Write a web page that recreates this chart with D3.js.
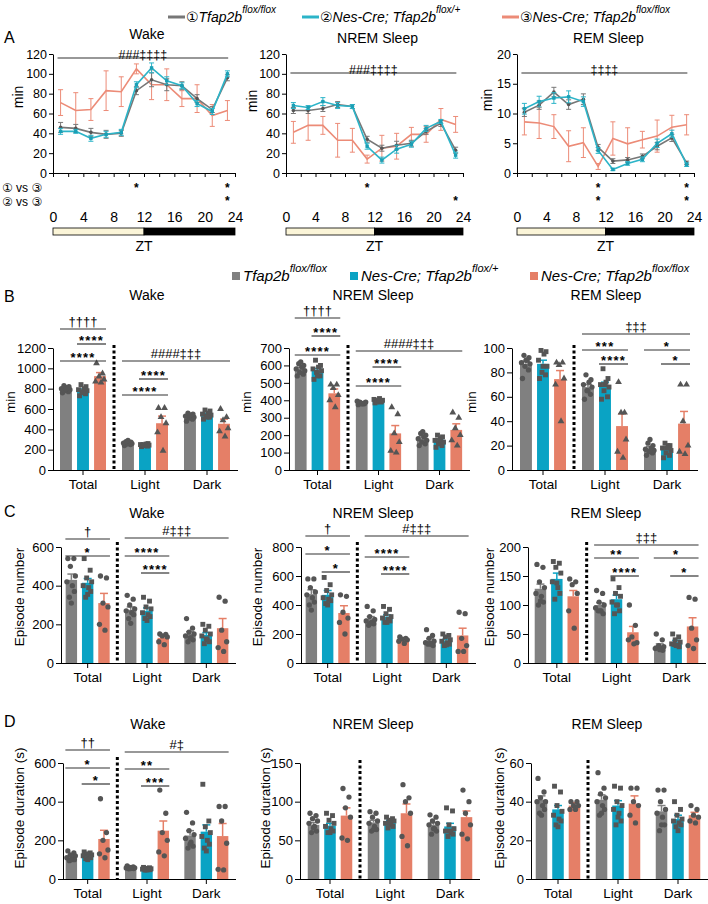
<!DOCTYPE html>
<html>
<head>
<meta charset="utf-8">
<script src="https://cdn.jsdelivr.net/npm/d3@7"></script>
<style>
body { margin: 0; background: #fff; }
svg { font-family: "Liberation Sans", Arial, "DejaVu Sans", "Noto Sans CJK JP", sans-serif; }
</style>
</head>
<body>
<script>
// ---------- data ----------
const genotypes = ["Tfap2b", "Nes-Cre; Tfap2b", "Nes-Cre; Tfap2b"];
const genoSup = ["flox/flox", "flox/+", "flox/flox"];
const circled = ["\u2460", "\u2461", "\u2462"];
const groups = ["Total", "Light", "Dark"];

// A: hourly amounts (2 h bins, min)
const hours = [1, 3, 5, 7, 9, 11, 13, 15, 17, 19, 21, 23];
const hourTicks = [0, 2, 4, 6, 8, 10, 12, 14, 16, 18, 20, 22, 24];
const ztLabels = [0, 4, 8, 12, 16, 20, 24];

const wakeHourly = [[46, 45, 41, 39, 40, 83, 94, 89, 88, 75, 64, 96],
                    [42, 42, 35, 39, 41, 89, 106, 93, 88, 70, 62, 100],
                    [71, 63, 64, 83, 82, 105, 89, 89, 75, 75, 58, 63]];
const wakeHourlyErr = [[5, 4, 4, 4, 3, 4, 7, 6, 4, 4, 3, 3],
                       [3, 2, 3, 3, 3, 3, 5, 4, 3, 3, 3, 3],
                       [13, 18, 11, 20, 15, 5, 15, 16, 8, 14, 11, 10]];
const nremHourly = [[63, 63, 65, 69, 67, 34, 25, 28, 30, 42, 50, 23],
                    [68, 66, 72, 68, 67, 27, 13, 24, 29, 45, 52, 18],
                    [41, 48, 48, 33, 33, 14, 25, 27, 39, 39, 54, 49]];
const nremHourlyErr = [[3, 3, 3, 3, 2, 3, 3, 4, 3, 3, 3, 3],
                       [3, 2, 4, 3, 2, 3, 3, 4, 3, 3, 2, 3],
                       [11, 15, 9, 17, 12, 4, 13, 13, 7, 8, 11, 8]];
const remHourly = [[10.2, 11.4, 13.6, 11.5, 12.4, 4.3, 2.0, 2.2, 2.8, 4.5, 5.9, 1.7],
                   [10.8, 12.0, 12.6, 12.8, 12.0, 3.8, 0.6, 1.6, 2.3, 5.0, 6.6, 1.4],
                   [8.6, 8.4, 7.8, 4.5, 5.1, 1.1, 5.8, 4.9, 5.6, 6.2, 7.7, 8.1]];
const remHourlyErr = [[0.7, 0.7, 0.8, 0.8, 0.9, 0.5, 0.4, 0.4, 0.4, 0.6, 0.6, 0.3],
                      [0.9, 0.9, 0.9, 1.0, 0.8, 0.5, 0.2, 0.3, 0.4, 0.7, 0.6, 0.3],
                      [2.2, 2.6, 2.0, 2.6, 2.5, 0.5, 2.8, 2.7, 1.4, 2.7, 2.0, 1.7]];
const minTicks120 = [0, 20, 40, 60, 80, 100, 120];
const minTicks20 = [0, 5, 10, 15, 20];
// hours with * for rows "1 vs 3" and "2 vs 3"
const wakeStars = [[11, 23], [23]];
const nremStars = [[11], [23]];
const remStars = [[11, 23], [11, 23]];

// B: total time (min); [group][genotype]
const bWakeTicks = [0, 200, 400, 600, 800, 1000, 1200];
const bWakeMean = [[795, 782, 923], [265, 245, 460], [525, 543, 455]];
const bWakeErr = [[10, 15, 35], [8, 8, 70], [10, 15, 45]];
const bWakeDots = [
  [[760, 770, 780, 790, 800, 810, 820, 830, 800], [730, 750, 760, 780, 790, 800, 820, 840, 770], [1050, 950, 920, 890, 870, 860]],
  [[240, 250, 255, 260, 265, 270, 275, 280, 290], [230, 235, 240, 245, 250, 255, 260, 250, 240], [610, 610, 520, 460, 370, 190]],
  [[480, 500, 510, 520, 530, 540, 550, 560, 540], [500, 520, 530, 540, 550, 560, 580, 590, 520], [600, 520, 490, 410, 380, 330]]];
const bWakeSig = [[0, 0, 0, 2, "††††"], [0, 1, 0, 2, "****"], [0, 0, 0, 2, "****"],
                  [1, 0, 2, 2, "####‡‡‡"], [1, 1, 1, 2, "****"], [1, 0, 1, 2, "****"]];

const bNremTicks = [0, 100, 200, 300, 400, 500, 600, 700];
const bNremMean = [[580, 570, 440], [383, 397, 210], [180, 166, 230]];
const bNremErr = [[10, 12, 25], [4, 5, 45], [10, 10, 35]];
const bNremDots = [
  [[540, 550, 560, 570, 580, 590, 600, 610, 620], [520, 540, 560, 570, 580, 590, 600, 630, 540], [490, 490, 470, 430, 400, 360]],
  [[375, 380, 385, 390, 395, 380, 385, 390, 380], [385, 390, 395, 400, 405, 410, 395, 390, 400], [360, 320, 210, 160, 110, 100]],
  [[140, 150, 160, 170, 180, 190, 200, 210, 220], [130, 140, 150, 160, 170, 180, 190, 200, 170], [330, 300, 240, 200, 170, 140]]];
const bNremSig = [[0, 0, 0, 2, "††††"], [0, 1, 0, 2, "****"], [0, 0, 0, 2, "****"],
                  [1, 0, 2, 2, "####‡‡‡"], [1, 1, 1, 2, "****"], [1, 0, 1, 2, "****"]];

const bRemTicks = [0, 20, 40, 60, 80, 100];
const bRemMean = [[87, 87, 74.5], [68, 69, 36], [17.7, 16.7, 38]];
const bRemErr = [[2, 3, 7], [2, 3, 10], [1.5, 1.5, 10]];
const bRemDots = [
  [[75, 82, 85, 87, 88, 90, 92, 94, 90], [75, 78, 80, 85, 90, 95, 97, 98, 85], [88, 88, 86, 75, 70, 40]],
  [[58, 62, 65, 68, 70, 72, 74, 78, 65], [58, 60, 65, 68, 70, 72, 75, 83, 70], [72, 47, 47, 25, 15, 10]],
  [[12, 14, 15, 16, 17, 18, 20, 22, 25], [10, 12, 14, 16, 18, 20, 20, 22, 18], [70, 70, 40, 20, 15, 13]]];
const bRemSig = [[1, 0, 2, 2, "‡‡‡"], [1, 0, 1, 2, "***"], [1, 1, 1, 2, "****"], [2, 0, 2, 2, "*"], [2, 1, 2, 2, "*"]];

// C: episode number
const cWakeTicks = [0, 200, 400, 600];
const cWakeMean = [[430, 415, 310], [275, 270, 130], [150, 145, 180]];
const cWakeErr = [[30, 22, 50], [15, 15, 10], [12, 12, 50]];
const cWakeDots = [
  [[540, 540, 500, 450, 420, 400, 370, 340, 310], [540, 480, 440, 420, 400, 390, 370, 340, 355], [450, 440, 310, 290, 200, 170]],
  [[350, 330, 300, 280, 270, 260, 250, 230, 205], [340, 320, 290, 280, 260, 250, 240, 230, 220], [150, 148, 140, 135, 110, 95]],
  [[230, 180, 160, 150, 140, 130, 120, 110, 130], [200, 190, 170, 150, 140, 120, 110, 100, 125], [340, 320, 170, 110, 80, 60]]];
const cWakeSig = [[0, 0, 0, 2, "†"], [0, 0, 0, 2, "*"], [1, 0, 2, 2, "#‡‡‡"], [1, 0, 1, 2, "****"], [1, 1, 1, 2, "****"]];

const cNremTicks = [0, 200, 400, 600, 800];
const cNremMean = [[475, 470, 345], [305, 320, 160], [155, 155, 190]];
const cNremErr = [[30, 30, 50], [15, 12, 12], [12, 10, 50]];
const cNremDots = [
  [[580, 580, 520, 490, 470, 450, 420, 400, 365], [590, 540, 500, 470, 450, 440, 430, 410, 400], [470, 460, 350, 310, 280, 200]],
  [[390, 360, 320, 300, 290, 280, 270, 260, 275], [390, 370, 340, 320, 310, 300, 290, 280, 280], [180, 170, 165, 160, 150, 135]],
  [[230, 190, 170, 150, 140, 130, 120, 130, 135], [200, 190, 180, 160, 150, 140, 130, 120, 125], [350, 340, 170, 120, 80, 80]]];
const cNremSig = [[0, 0, 0, 2, "†"], [0, 0, 0, 2, "*"], [0, 1, 0, 2, "*"], [1, 0, 2, 2, "#‡‡‡"], [1, 0, 1, 2, "****"], [1, 1, 1, 2, "****"]];

const cRemTicks = [0, 50, 100, 150, 200];
const cRemMean = [[128, 145, 115], [100, 110, 53], [30, 36, 63]];
const cRemErr = [[8, 10, 10], [4, 7, 10], [3, 3, 15]];
const cRemDots = [
  [[170, 165, 140, 130, 120, 115, 105, 100, 107], [175, 172, 165, 155, 140, 130, 120, 110, 138], [145, 140, 135, 120, 90, 60]],
  [[125, 120, 105, 100, 95, 90, 85, 90, 90], [145, 130, 120, 115, 105, 100, 90, 85, 100], [100, 65, 45, 35, 40, 33]],
  [[50, 40, 30, 28, 25, 25, 22, 27, 23], [50, 45, 40, 36, 33, 30, 28, 32, 30], [113, 110, 60, 40, 30, 25]]];
const cRemSig = [[1, 0, 2, 2, "‡‡‡"], [1, 0, 1, 2, "**"], [1, 1, 1, 2, "****"], [2, 0, 2, 2, "*"], [2, 1, 2, 2, "*"]];

// D: episode duration (s)
const dWakeTicks = [0, 200, 400, 600];
const dWakeMean = [[115, 120, 207], [58, 52, 250], [225, 245, 222]];
const dWakeErr = [[8, 6, 45], [3, 3, 50], [25, 35, 65]];
const dWakeDots = [
  [[145, 135, 125, 120, 110, 105, 100, 95, 100], [140, 135, 130, 125, 120, 115, 110, 105, 100], [415, 240, 200, 150, 130, 110]],
  [[68, 63, 60, 58, 57, 55, 54, 53, 54], [60, 58, 55, 53, 51, 50, 48, 46, 47], [460, 340, 240, 200, 140, 120]],
  [[345, 290, 250, 230, 210, 190, 170, 160, 180], [490, 300, 270, 240, 220, 200, 180, 160, 145], [375, 375, 300, 185, 50, 47]]];
const dWakeSig = [[0, 0, 0, 2, "††"], [0, 0, 0, 2, "*"], [0, 1, 0, 2, "*"], [1, 0, 2, 2, "#‡"], [1, 0, 1, 2, "**"], [1, 1, 1, 2, "***"]];

const dNremTicks = [0, 50, 100, 150];
const dNremMean = [[70, 69, 82], [73, 73, 85], [70, 68, 80]];
const dNremErr = [[3, 3, 10], [3, 3, 12], [3, 4, 8]];
const dNremDots = [
  [[85, 82, 78, 75, 72, 68, 62, 60, 66], [85, 82, 76, 72, 68, 65, 62, 60, 60], [117, 106, 92, 80, 53, 50]],
  [[87, 85, 80, 75, 72, 68, 64, 62, 64], [80, 78, 76, 75, 72, 70, 68, 66, 72], [122, 105, 100, 85, 55, 43]],
  [[83, 80, 75, 72, 70, 65, 62, 58, 65], [92, 88, 70, 65, 62, 60, 58, 55, 62], [115, 100, 85, 70, 58, 52]]];

const dRemTicks = [0, 20, 40, 60];
const dRemMean = [[41, 36, 38], [41, 38, 39], [35, 31, 33]];
const dRemErr = [[2, 2, 1.5], [2.5, 2.5, 4], [3, 2, 1.5]];
const dRemDots = [
  [[52, 45, 42, 40, 40, 38, 36, 34, 33], [48, 45, 38, 35, 33, 31, 30, 28, 27], [40, 40, 38, 38, 36, 36]],
  [[55, 47, 44, 42, 40, 38, 36, 33, 34], [48, 47, 40, 38, 36, 34, 30, 28, 32], [47, 47, 40, 38, 33, 29]],
  [[46, 46, 40, 36, 34, 32, 28, 25, 28], [40, 36, 33, 31, 30, 29, 28, 27, 25], [38, 36, 33, 32, 30, 29]]];

// ---------- styles ----------
const barColors = ["#808080", "#0aa3c4", "#e57f67"];
const lineColors = ["#777777", "#2cb4c8", "#ec8b77"];
const dotColor = "#555555";
const jitter = [-3.5, 2.5, -1, 4, -4.5, 1, 3, -2, 0];

const svg = d3.select("body").append("svg")
  .attr("width", 708)
  .attr("height", 904);

function styleAxis(sel, fs) {
  sel.attr("font-family", null).attr("font-size", fs);
  sel.selectAll("path, line").attr("stroke", "#000");
  sel.selectAll("text").attr("fill", "#000");
}

function panelLetter(t, y) {
  svg.append("text").attr("x", 4).attr("y", y).attr("font-size", 16).text(t);
}

// ---------- legend ----------
const legA = svg.append("g");
const legAX = [168, 302, 502];
genotypes.forEach((name, i) => {
  legA.append("line")
      .attr("x1", legAX[i]).attr("x2", legAX[i] + 17)
      .attr("y1", 17).attr("y2", 17)
      .attr("stroke", lineColors[i]).attr("stroke-width", 3);
  const t = legA.append("text").attr("x", legAX[i] + 18).attr("y", 22).attr("font-size", 14);
  t.append("tspan").text(circled[i]);
  t.append("tspan").attr("font-style", "italic").text(name);
  t.append("tspan").attr("font-style", "italic").attr("font-size", 10).attr("dy", -9).text(genoSup[i]);
});

const legB = svg.append("g");
const legBX = [232, 350, 530];
genotypes.forEach((name, i) => {
  legB.append("rect").attr("x", legBX[i]).attr("y", 272).attr("width", 8).attr("height", 8)
      .attr("fill", barColors[i]);
  const t = legB.append("text").attr("x", legBX[i] + 11).attr("y", 281)
               .attr("font-size", 15).attr("font-style", "italic");
  t.append("tspan").text(name);
  t.append("tspan").attr("font-size", 11).attr("dy", -9).text(genoSup[i]);
});

// ---------- A: time course ----------
function linePanel(o) {
  const g = svg.append("g");
  const x = d3.scaleLinear().domain([0, 24]).range([o.x0, o.x1]);
  const y = d3.scaleLinear().domain([0, o.ticks[o.ticks.length - 1]]).range([173, 54]);

  g.append("g").attr("transform", `translate(${o.x0},0)`)
   .call(d3.axisLeft(y).tickValues(o.ticks).tickSize(4).tickSizeOuter(0).tickPadding(2))
   .call(styleAxis, 12.5);
  g.append("g").attr("transform", "translate(0,173)")
   .call(d3.axisBottom(x).tickValues(hourTicks).tickFormat("").tickSize(4).tickSizeOuter(0))
   .call(styleAxis, 12);
  const lab = g.append("g").attr("transform", "translate(0,212)")
   .call(d3.axisBottom(x).tickValues(ztLabels).tickSize(0).tickPadding(0))
   .call(styleAxis, 14);
  lab.select(".domain").remove();

  // light / dark bar
  g.append("rect").attr("x", x(0)).attr("y", 228).attr("width", x(12) - x(0)).attr("height", 7)
   .attr("fill", "#fbf5d8").attr("stroke", "#000").attr("stroke-width", 0.8);
  g.append("rect").attr("x", x(12)).attr("y", 228).attr("width", x(24) - x(12)).attr("height", 7)
   .attr("fill", "#000").attr("stroke", "#000").attr("stroke-width", 0.8);
  g.append("text").attr("x", x(12)).attr("y", 251).attr("text-anchor", "middle").attr("font-size", 14).text("ZT");

  // significance
  g.append("line").attr("x1", x(0.6)).attr("x2", x(23.1)).attr("y1", o.sigY).attr("y2", o.sigY)
   .attr("stroke", "#333").attr("stroke-width", 1.2);
  g.append("text").attr("x", (x(0.6) + x(23.1)) / 2).attr("y", o.sigY + 1)
   .attr("text-anchor", "middle").attr("font-size", 12.5).text(o.sigText);

  // series (salmon first so the controls sit on top)
  [2, 0, 1].forEach(k => {
    const s = g.append("g");
    const col = lineColors[k];
    s.append("path").datum(o.means[k])
     .attr("d", d3.line().x((d, i) => x(hours[i])).y(d => y(d)))
     .attr("fill", "none").attr("stroke", col).attr("stroke-width", 1.6);
    s.selectAll("g.eb").data(o.means[k]).join("g")
     .each(function (d, i) {
       const e = o.errs[k][i], cx = x(hours[i]);
       const el = d3.select(this).attr("stroke", col).attr("stroke-width", 1);
       el.append("line").attr("x1", cx).attr("x2", cx).attr("y1", y(d - e)).attr("y2", y(d + e));
       el.append("line").attr("x1", cx - 2.5).attr("x2", cx + 2.5).attr("y1", y(d - e)).attr("y2", y(d - e));
       el.append("line").attr("x1", cx - 2.5).attr("x2", cx + 2.5).attr("y1", y(d + e)).attr("y2", y(d + e));
     });
    if (k === 0) {
      s.selectAll("circle").data(o.means[k]).join("circle")
       .attr("cx", (d, i) => x(hours[i])).attr("cy", d => y(d)).attr("r", 1.8).attr("fill", "#555");
    } else if (k === 1) {
      s.selectAll("rect").data(o.means[k]).join("rect")
       .attr("x", (d, i) => x(hours[i]) - 1.7).attr("y", d => y(d) - 1.7)
       .attr("width", 3.4).attr("height", 3.4).attr("fill", "#1a9fb5");
    }
  });

  // post hoc stars
  o.stars.forEach((row, r) => {
    g.selectAll(null).data(row).join("text")
     .attr("x", d => x(d)).attr("y", 192 + r * 13)
     .attr("text-anchor", "middle").attr("font-size", 12).attr("font-weight", "bold").text("*");
  });

  g.append("text").attr("x", (o.x0 + o.x1) / 2 + 3).attr("y", o.ty)
   .attr("text-anchor", "middle").attr("font-size", 14).text(o.title);
  g.append("text").attr("transform", `translate(${o.lx},${o.ly}) rotate(-90)`)
   .attr("text-anchor", "middle").attr("font-size", 14).text("min");
}

panelLetter("A", 43);
linePanel({ x0: 53, x1: 235, ticks: minTicks120, means: wakeHourly, errs: wakeHourlyErr, stars: wakeStars,
            sigY: 58, sigText: "###‡‡‡‡", title: "Wake", ty: 39, lx: 23, ly: 97 });
linePanel({ x0: 286, x1: 463, ticks: minTicks120, means: nremHourly, errs: nremHourlyErr, stars: nremStars,
            sigY: 73, sigText: "###‡‡‡‡", title: "NREM Sleep", ty: 43, lx: 257, ly: 101 });
linePanel({ x0: 517, x1: 694, ticks: minTicks20, means: remHourly, errs: remHourlyErr, stars: remStars,
            sigY: 73, sigText: "‡‡‡‡", title: "REM Sleep", ty: 43, lx: 492, ly: 100 });

svg.append("text").attr("x", 2).attr("y", 192).attr("font-size", 12).text("\u2460 vs \u2462");
svg.append("text").attr("x", 2).attr("y", 206).attr("font-size", 12).text("\u2461 vs \u2462");

// ---------- B-D: bar panels ----------
function barPanel(o) {
  const g = svg.append("g");
  const y = d3.scaleLinear().domain([0, o.ticks[o.ticks.length - 1]]).range([o.y0, o.y1]);
  const xg = d3.scaleBand().domain(groups).range([o.b0, o.b1]);
  const xb = d3.scaleBand().domain([0, 1, 2]).range([0, xg.bandwidth()]).paddingInner(0.3).paddingOuter(0.47);
  const cx = (gi, bi) => xg(groups[gi]) + xb(bi) + xb.bandwidth() / 2;
  const recs = o.means.flatMap((row, gi) => row.map((v, bi) =>
    ({ gi, bi, v, e: o.errs[gi][bi], dots: o.dots[gi][bi] })));

  g.selectAll("rect.bar").data(recs).join("rect")
   .attr("class", "bar")
   .attr("x", d => cx(d.gi, d.bi) - xb.bandwidth() / 2)
   .attr("y", d => y(d.v))
   .attr("width", xb.bandwidth())
   .attr("height", d => y(0) - y(d.v))
   .attr("fill", d => barColors[d.bi]);

  g.selectAll("g.err").data(recs).join("g")
   .attr("class", "err")
   .attr("stroke", d => barColors[d.bi]).attr("stroke-width", 1.5)
   .each(function (d) {
     const el = d3.select(this), c = cx(d.gi, d.bi);
     el.append("line").attr("x1", c).attr("x2", c).attr("y1", y(d.v)).attr("y2", y(d.v + d.e));
     el.append("line").attr("x1", c - 4).attr("x2", c + 4).attr("y1", y(d.v + d.e)).attr("y2", y(d.v + d.e));
   });

  const shapes = [d3.symbolCircle, d3.symbolSquare, o.tri ? d3.symbolTriangle : d3.symbolCircle];
  const sizes = [22, 24, o.tri ? 20 : 22];
  recs.forEach(r => {
    const p = d3.symbol().type(shapes[r.bi]).size(sizes[r.bi])();
    g.selectAll(null).data(r.dots).join("path")
     .attr("d", p)
     .attr("transform", (v, i) => `translate(${cx(r.gi, r.bi) + jitter[i % jitter.length]},${y(v)})`)
     .attr("fill", dotColor);
  });

  g.append("g").attr("transform", `translate(${o.ax},0)`)
   .call(d3.axisLeft(y).tickValues(o.ticks).tickFormat(d3.format("d")).tickSize(5).tickSizeOuter(0).tickPadding(2))
   .call(styleAxis, 13);
  const xa = g.append("g").attr("transform", `translate(0,${o.y0})`)
   .call(d3.axisBottom(xg).tickSize(5).tickSizeOuter(0).tickPadding(4))
   .call(styleAxis, 13.5);
  xa.select(".domain").remove();
  g.append("line").attr("x1", o.ax).attr("x2", o.b1).attr("y1", o.y0 + 0.5).attr("y2", o.y0 + 0.5)
   .attr("stroke", "#000");

  const dx = xg("Light");
  g.append("line").attr("x1", dx).attr("x2", dx).attr("y1", o.divTop).attr("y2", o.y0)
   .attr("stroke", "#000").attr("stroke-width", 3).attr("stroke-dasharray", "3,2.5");

  (o.sig || []).forEach((s, k) => {
    const [g1, b1, g2, b2, txt] = s;
    const ly = o.sigY[k];
    const x1 = cx(g1, b1) - 6, x2 = cx(g2, b2) + 6;
    g.append("line").attr("x1", x1).attr("x2", x2).attr("y1", ly).attr("y2", ly)
     .attr("stroke", "#333").attr("stroke-width", 1.2);
    const star = /^\*+$/.test(txt);
    g.append("text").attr("x", (x1 + x2) / 2).attr("y", star ? ly + 1 : ly - 3)
     .attr("text-anchor", "middle").attr("font-size", 13)
     .attr("font-weight", star ? "bold" : null)
     .attr("letter-spacing", star ? 1.2 : null)
     .text(txt);
  });

  g.append("text").attr("x", o.tx).attr("y", o.ty).attr("text-anchor", "middle")
   .attr("font-size", 14).text(o.title);
  g.append("text").attr("transform", `translate(${o.lx},${o.ly}) rotate(-90)`)
   .attr("text-anchor", "middle").attr("font-size", 13.5).text(o.label);
}

panelLetter("B", 302);
barPanel({ ax: 53, b0: 52, b1: 238, y0: 470, y1: 348, ticks: bWakeTicks, means: bWakeMean, errs: bWakeErr,
           dots: bWakeDots, sig: bWakeSig, sigY: [329, 344, 361, 361, 379, 395], tri: true, divTop: 345,
           title: "Wake", tx: 147, ty: 300, label: "min", lx: 15, ly: 402 });
barPanel({ ax: 289, b0: 287, b1: 470, y0: 470, y1: 348, ticks: bNremTicks, means: bNremMean, errs: bNremErr,
           dots: bNremDots, sig: bNremSig, sigY: [318, 336, 355, 351, 367, 386], tri: true, divTop: 345,
           title: "NREM Sleep", tx: 373, ty: 300, label: "min", lx: 251, ly: 402 });
barPanel({ ax: 512, b0: 512, b1: 698, y0: 470, y1: 348, ticks: bRemTicks, means: bRemMean, errs: bRemErr,
           dots: bRemDots, sig: bRemSig, sigY: [334, 350, 364, 350, 364], tri: true, divTop: 345,
           title: "REM Sleep", tx: 606, ty: 300, label: "min", lx: 476, ly: 402 });

panelLetter("C", 517);
barPanel({ ax: 61, b0: 58, b1: 236, y0: 663, y1: 547, ticks: cWakeTicks, means: cWakeMean, errs: cWakeErr,
           dots: cWakeDots, sig: cWakeSig, sigY: [539, 556, 538, 556, 573], divTop: 542,
           title: "Wake", tx: 147, ty: 518, label: "Episode number", lx: 24, ly: 597 });
barPanel({ ax: 301, b0: 298, b1: 476, y0: 663, y1: 547, ticks: cNremTicks, means: cNremMean, errs: cNremErr,
           dots: cNremDots, sig: cNremSig, sigY: [536, 554, 572, 536, 557, 574], divTop: 542,
           title: "NREM Sleep", tx: 373, ty: 518, label: "Episode number", lx: 262, ly: 597 });
barPanel({ ax: 528, b0: 527, b1: 706, y0: 663, y1: 547, ticks: cRemTicks, means: cRemMean, errs: cRemErr,
           dots: cRemDots, sig: cRemSig, sigY: [545, 558, 576, 558, 576], divTop: 542,
           title: "REM Sleep", tx: 606, ty: 518, label: "Episode number", lx: 494, ly: 597 });

panelLetter("D", 727);
barPanel({ ax: 63, b0: 58, b1: 236, y0: 879, y1: 763, ticks: dWakeTicks, means: dWakeMean, errs: dWakeErr,
           dots: dWakeDots, sig: dWakeSig, sigY: [750, 768, 784, 752, 769, 786], divTop: 757,
           title: "Wake", tx: 148, ty: 729, label: "Episode duration (s)", lx: 24, ly: 808 });
barPanel({ ax: 300, b0: 300, b1: 480, y0: 879, y1: 763, ticks: dNremTicks, means: dNremMean, errs: dNremErr,
           dots: dNremDots, divTop: 760,
           title: "NREM Sleep", tx: 373, ty: 729, label: "Episode duration (s)", lx: 270, ly: 808 });
barPanel({ ax: 531, b0: 528, b1: 708, y0: 879, y1: 763, ticks: dRemTicks, means: dRemMean, errs: dRemErr,
           dots: dRemDots, divTop: 760,
           title: "REM Sleep", tx: 607, ty: 729, label: "Episode duration (s)", lx: 504, ly: 808 });
</script>
</body>
</html>
